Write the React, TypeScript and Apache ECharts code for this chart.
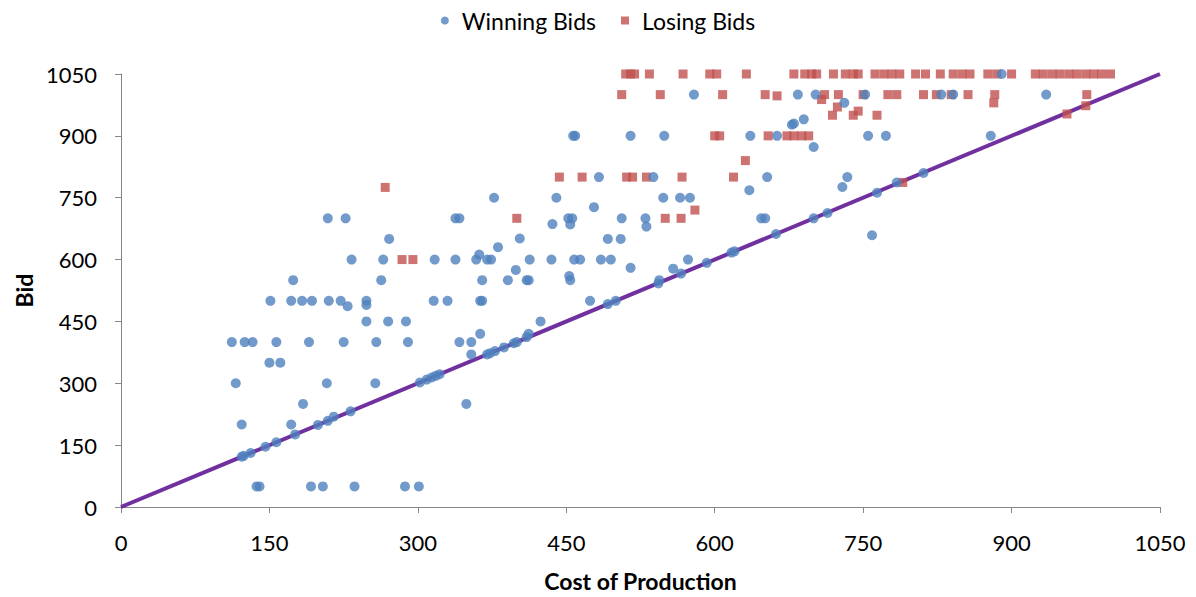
import React, { useEffect, useRef } from "react";
import * as echarts from "echarts";

const axisTicks = [0, 150, 300, 450, 600, 750, 900, 1050];

const winningBids: [number, number][] = [
  [174, 550], [151, 500], [172, 500], [183, 500], [112, 400], [125, 400], [133, 400], [157, 400],
  [150, 350], [161, 350], [116, 300], [122, 200], [172, 200], [184, 250], [176, 176], [122, 122],
  [124, 124], [131, 131], [146, 146], [157, 157], [137, 50], [140, 50],
  [209, 700], [227, 700], [338, 700], [342, 700], [271, 650], [233, 600], [265, 600], [317, 600],
  [338, 600], [359, 600], [362, 612], [263, 550], [193, 500], [210, 500], [222, 500], [229, 487],
  [248, 500], [248, 490], [316, 500], [330, 500], [363, 500], [248, 450], [270, 450], [288, 450],
  [190, 400], [225, 400], [258, 400], [290, 400], [342, 400], [354, 400], [363, 420], [354, 370],
  [208, 300], [257, 300], [349, 250], [199, 199], [209, 209], [215, 219], [232, 232], [302, 302],
  [309, 309], [314, 314], [318, 318], [322, 322], [192, 50], [204, 50], [236, 50], [287, 50], [301, 50],
  [377, 750], [440, 750], [478, 727], [436, 686], [452, 700], [456, 700], [454, 685], [506, 700],
  [530, 700], [531, 680], [403, 651], [381, 630], [492, 650], [505, 650], [370, 600], [374, 600],
  [413, 600], [435, 600], [458, 600], [464, 600], [485, 600], [495, 600], [515, 580], [399, 575],
  [365, 550], [391, 550], [410, 550], [412, 550], [453, 560], [454, 550], [365, 500], [474, 500],
  [424, 450], [370, 370], [373, 373], [378, 378], [387, 387], [397, 397], [400, 400], [410, 412],
  [412, 420], [492, 492], [500, 500],
  [457, 900], [459, 900], [515, 900], [483, 800],
  [579, 1000], [684, 1000], [702, 1000], [678, 927], [680, 930], [690, 940], [700, 873], [549, 900],
  [636, 900], [663, 900], [538, 800], [653, 800], [635, 768], [548, 750], [565, 750], [575, 750],
  [647, 700], [651, 700], [662, 662], [558, 578], [573, 600], [592, 592], [566, 566], [544, 550],
  [543, 542], [617, 617], [620, 620], [700, 700],
  [752, 1000], [829, 1000], [841, 1000], [731, 980], [755, 900], [773, 900], [879, 900], [734, 800],
  [729, 776], [764, 762], [784, 787], [811, 810], [714, 713], [759, 659],
  [890, 1050], [935, 1000],
];

const losingBids: [number, number][] = [
  [267, 775], [284, 600], [295, 600], [400, 700], [443, 800], [466, 800], [511, 800], [517, 800],
  [531, 800], [567, 800], [619, 800],
  [510, 1050], [515, 1050], [519, 1050], [534, 1050], [568, 1050], [595, 1050], [602, 1050],
  [632, 1050], [680, 1050], [691, 1050], [698, 1050], [703, 1050], [720, 1050], [732, 1050],
  [740, 1050], [745, 1050], [762, 1050], [771, 1050], [779, 1050], [787, 1050], [803, 1050],
  [813, 1050], [828, 1050], [841, 1050], [850, 1050], [858, 1050], [876, 1050], [885, 1050],
  [900, 1050], [924, 1050], [932, 1050], [941, 1050], [949, 1050], [958, 1050], [966, 1050],
  [975, 1050], [983, 1050], [991, 1050], [1000, 1050],
  [506, 1000], [545, 1000], [608, 1000], [651, 1000], [663, 997], [708, 988], [711, 1000],
  [725, 1000], [750, 1000], [775, 1000], [784, 1000], [811, 1000], [824, 1000], [839, 1000],
  [856, 1000], [883, 1000], [976, 1000],
  [724, 970], [719, 950], [740, 950], [745, 960], [764, 950], [882, 980], [975, 973], [956, 953],
  [790, 787],
  [600, 900], [605, 900], [654, 900], [673, 900], [680, 900], [688, 900], [695, 900], [631, 840],
  [580, 720], [550, 700], [566, 700],
];

const equalityLine: [number, number][] = [[0, 0], [1050, 1050]];

const FONT = "Lato, 'Noto Sans', sans-serif";

export default function App() {
  const ref = useRef<HTMLDivElement>(null);
  useEffect(() => {
    document.body.style.margin = "0";
    if (!ref.current) return;
    const chart = echarts.init(ref.current, undefined, { renderer: "svg" });
    const axisCommon = {
      type: "value" as const,
      min: axisTicks[0],
      max: axisTicks[axisTicks.length - 1],
      interval: 150,
      splitLine: { show: false },
      axisLine: { show: true, onZero: false, lineStyle: { color: "#868686", width: 1 } },
      axisTick: { show: true, inside: false, length: 6, lineStyle: { color: "#868686" } },
      axisLabel: {
        color: "#000",
        fontSize: 22,
        fontFamily: FONT,
        formatter: (v: number) => String(v),
      },
      nameTextStyle: { color: "#000", fontSize: 23, fontWeight: "bold" as const, fontFamily: FONT },
      nameLocation: "middle" as const,
    };
    chart.setOption({
      animation: false,
      backgroundColor: "#fff",
      textStyle: { fontFamily: FONT },
      legend: {
        top: 4,
        left: "center",
        itemGap: 25,
        itemWidth: 24,
        itemHeight: 8,
        symbolKeepAspect: true,
        textStyle: { color: "#000", fontSize: 23, fontFamily: FONT },
        data: [
          { name: "Winning Bids", icon: "circle" },
          { name: "Losing Bids", icon: "path://M0,0L10,0L10,10L0,10Z" },
        ],
      },
      grid: { left: 121, right: 36, top: 74, bottom: 89, containLabel: false },
      xAxis: {
        ...axisCommon,
        name: "Cost of Production",
        nameGap: 62,
        axisLabel: { ...axisCommon.axisLabel, margin: 24 },
      },
      yAxis: {
        ...axisCommon,
        name: "Bid",
        nameGap: 79,
        nameRotate: 90,
        axisLabel: { ...axisCommon.axisLabel, margin: 24 },
      },
      series: [
        {
          name: "Line",
          type: "line",
          data: equalityLine,
          showSymbol: false,
          symbol: "none",
          lineStyle: { color: "#7030A0", width: 4 },
          z: 1,
          silent: true,
        },
        {
          name: "Winning Bids",
          type: "scatter",
          data: winningBids,
          symbol: "circle",
          symbolSize: 10,
          itemStyle: { color: "#4F81BD" },
          z: 3,
        },
        {
          name: "Losing Bids",
          type: "scatter",
          data: losingBids,
          symbol: "rect",
          symbolSize: 9,
          itemStyle: { color: "#C0504D" },
          z: 2,
        },
      ],
    });
    return () => chart.dispose();
  }, []);
  return <div ref={ref} style={{ width: 1196, height: 597 }} />;
}
